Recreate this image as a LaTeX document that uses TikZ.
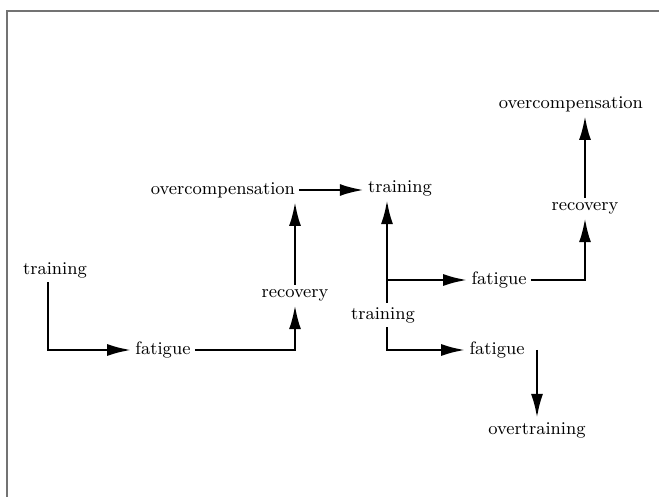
\documentclass[tikz,border=0pt]{standalone}
\usetikzlibrary{arrows.meta}
\begin{document}
\begin{tikzpicture}[x=0.5pt,y=-0.5pt,>={Latex[length=12pt,width=6pt]},line width=1.3pt,
  every node/.style={inner sep=1.5pt,font=\fontsize{9}{11}\selectfont}]
\useasboundingbox (0,0) rectangle (659,497);
\draw[line width=0.8pt,black!55] (7,497)--(7,11)--(659,11);

\node (train1) at (55,270){training};
\node (fat1) at (163,350){fatigue};
\node (recov1) at (295,295){recovery};
\node (over1) at (223,190){overcompensation};
\node (train2) at (400,188){training};
\node (train3) at (383,315){training};
\node (fat2) at (499,280){fatigue};
\node (recov2) at (585,208){recovery};
\node (over3) at (571,104){overcompensation};
\node (fat3) at (497,350){fatigue};
\node (overtr) at (537,430){overtraining};
\coordinate (fork) at (387,280);

\draw[->] (train1.south -| 48,0) |- (fat1.west);
\draw[->] (fat1.east) -| (recov1.south);
\draw[->] (recov1.north)--(recov1.north |- over1.south);
\draw[->] (over1.east)--(over1.east -| train2.west);
\draw[->] (fork |- train3.north)--(fork |- train2.south);
\draw[->] (fork)--(fork -| fat2.west);
\draw[->] (fork |- train3.south) |- (fat3.west);
\draw[->] (fat2.east) -| (recov2.south);
\draw[->] (recov2.north)--(recov2.north |- over3.south);
\draw[->] (fat3.east -| overtr.north)--(overtr.north);
\end{tikzpicture}
\end{document}
